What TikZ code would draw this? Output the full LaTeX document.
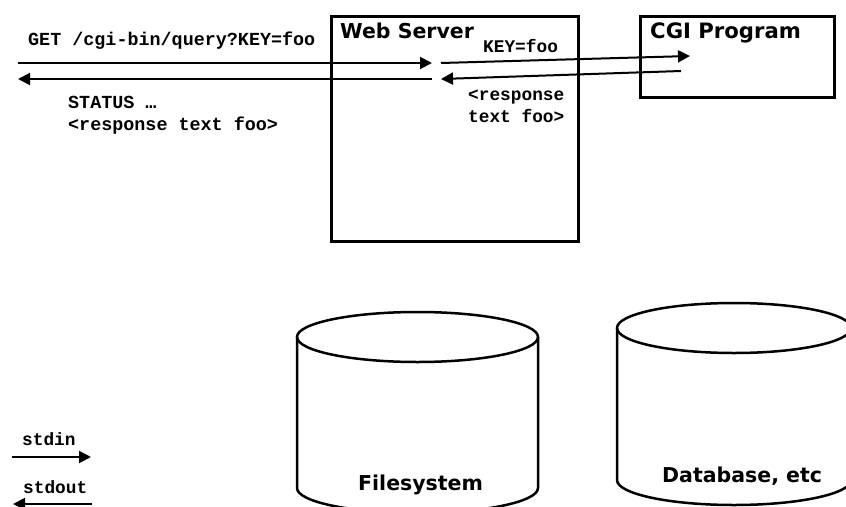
\documentclass[tikz,border=0pt]{standalone}
\usepackage{fontspec}
\setsansfont{DejaVu Sans}
\setmonofont{Liberation Mono}
\usetikzlibrary{arrows.meta}

\tikzset{
  box/.style={draw, line width=3pt, inner sep=0pt},
  boxtitle/.style={font=\sffamily\bfseries\fontsize{20.5}{24}\selectfont, anchor=base west, inner sep=0pt},
  msg/.style={font=\ttfamily\bfseries\fontsize{18.4}{22}\selectfont, anchor=base west, inner sep=0pt},
  smallmsg/.style={msg, font=\ttfamily\bfseries\fontsize{17.8}{21}\selectfont},
  flow/.style={line width=2pt, -{Triangle[length=12pt,width=12pt]}},
  disk/.style={line width=2.5pt},
}

\begin{document}
\begin{tikzpicture}[x=1pt, y=-1pt]
    \path[use as bounding box, clip] (0,0) rectangle (846,506);

    % Server and CGI boxes
    \node[box, anchor=north west, minimum width=247pt, minimum height=225pt] (ws) at (330,15) {};
    \node[box, anchor=north west, minimum width=194pt, minimum height=81pt] (cgi) at (639,15) {};
    \node[boxtitle] (ws title) at (340,38) {Web Server};
    \node[boxtitle, font=\sffamily\bfseries\fontsize{21.2}{24}\selectfont] (cgi title) at (650,38) {CGI Program};

    % Request from the client, passed on to the program
    \coordinate (req start) at (18,63);
    \coordinate (req end) at (432,63);
    \coordinate (fwd start) at (441,63);
    \coordinate (fwd end) at (690,56);
    \draw[flow] (req start) -- (req end);
    \draw[flow] (fwd start) -- (fwd end);
    \node[msg] (req) at (28,45) {GET /cgi-bin/query?KEY=foo};
    \node[smallmsg] (key) at (483,52) {KEY=foo};

    % Response back to the client
    \coordinate (ret start) at (681,71);
    \coordinate (ret end) at (441,79);
    \coordinate (resp start) at (432,79);
    \coordinate (resp end) at (18,79);
    \draw[flow] (ret start) -- (ret end);
    \draw[flow] (resp start) -- (resp end);
    \node[smallmsg] (ret1) at (468,100) {<response};
    \node[smallmsg] (ret2) at (468,122) {text foo>};
    \node[msg] (status) at (68,108) {STATUS …};
    \node[msg] (resp) at (68,130) {<response text foo>};

    % Filesystem
    \draw[disk] (297,337) -- (297,488) arc[start angle=180, end angle=0, x radius=120.5, y radius=25] -- (538,337);
    \draw[disk] (417.5,337) ellipse[x radius=120.5, y radius=25];
    \node[boxtitle] (fs) at (358,490) {Filesystem};

    % Database
    \draw[disk] (617,328) -- (617,480) arc[start angle=180, end angle=0, x radius=117, y radius=25] -- (851,328);
    \draw[disk] (734,328) ellipse[x radius=117, y radius=25];
    \node[boxtitle] (db) at (662,482) {Database, etc};

    % Legend
    \coordinate (in a) at (12,457);
    \coordinate (in b) at (91,457);
    \coordinate (out a) at (92,504);
    \coordinate (out b) at (13,504);
    \draw[flow] (in a) -- (in b);
    \draw[flow] (out a) -- (out b);
    \node[smallmsg] (stdin) at (22,445) {stdin};
    \node[smallmsg] (stdout) at (23,493) {stdout};
\end{tikzpicture}
\end{document}
